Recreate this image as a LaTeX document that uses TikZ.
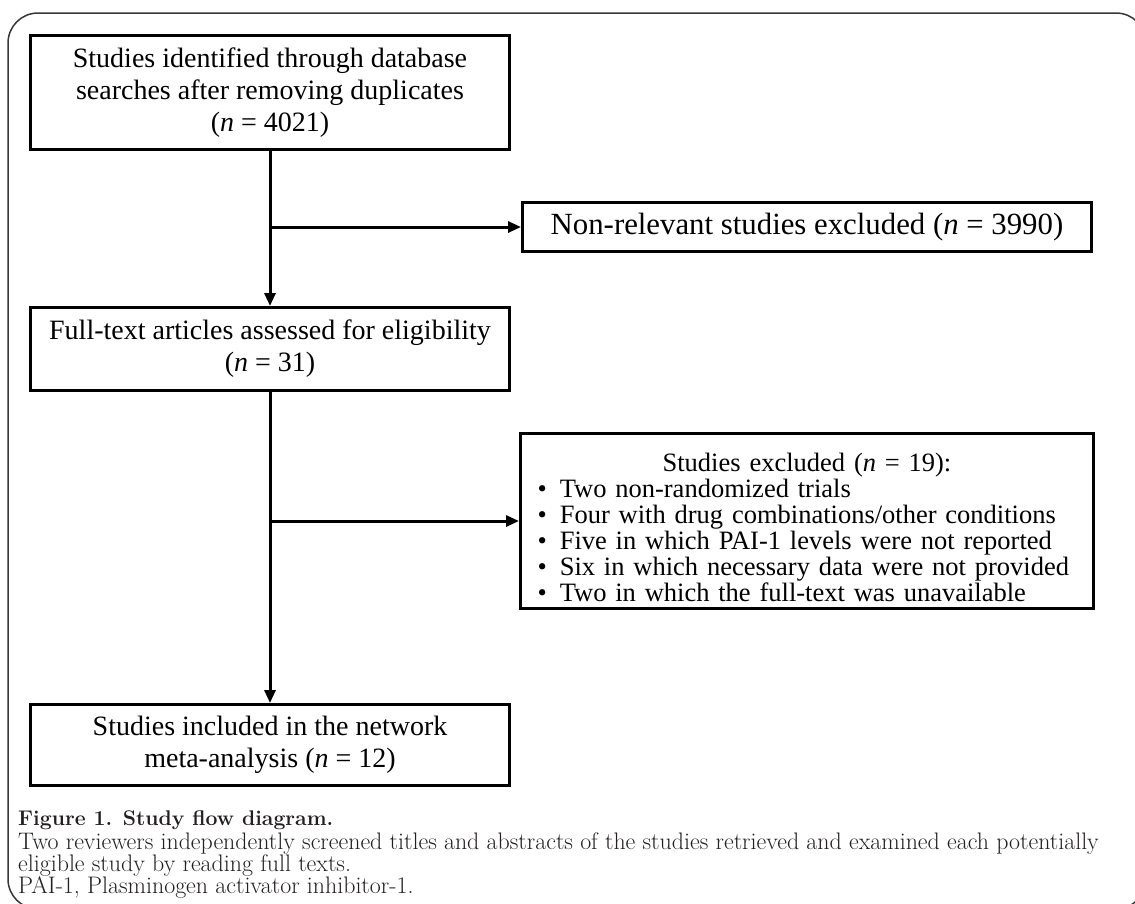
\documentclass[tikz,border=0pt]{standalone}
\usepackage{fontspec}
\newfontfamily\boxserif{Liberation Serif}
\usetikzlibrary{arrows.meta,positioning}
\definecolor{Ink}{RGB}{0,0,0}
\definecolor{CapInk}{RGB}{35,31,32}
\definecolor{FrameGrey}{RGB}{55,55,55}
\tikzset{
  flowbox/.style={draw=Ink, line width=3pt, fill=white, text=Ink, align=center,
    inner sep=0pt, minimum width=479pt, font=\boxserif\fontsize{28}{32}\selectfont},
  listbox/.style={flowbox, align=left, inner xsep=17pt, font=\boxserif\fontsize{26.5}{26}\selectfont},
  flowarr/.style={-{Triangle[length=13pt,width=11pt]}, draw=Ink, line width=3pt},
  framebox/.style={draw=FrameGrey, line width=1.5pt, rounded corners=30pt},
  captext/.style={anchor=base west, inner sep=0pt, text=CapInk, font=\fontsize{23.9}{22}\selectfont},
  capbold/.style={captext, font=\fontsize{21.2}{22}\selectfont\bfseries},
}
\begin{document}
\begin{tikzpicture}[x=1pt,y=-1pt]
\useasboundingbox (0,0) rectangle (1135,903);

% ---------------- outer frame ----------------
\begin{scope}
  \clip (0,0) rectangle (1135,903);
  \draw[framebox] (8,13) rectangle (1146,909);
\end{scope}

% ---------------- main column ----------------
\node[flowbox, minimum height=114pt, anchor=north west] (ident) at (29,34)
  {Studies identified through database\\ searches after removing duplicates\\ (\textit{n} = 4021)};
\node[flowbox, minimum height=83pt, below=155pt of ident] (fulltxt)
  {Full-text articles assessed for eligibility\\ (\textit{n} = 31)};
\node[flowbox, minimum height=81pt, below=311pt of fulltxt] (incl)
  {Studies included in the network\\ meta-analysis (\textit{n} = 12)};

% ---------------- exclusion boxes ----------------
\node[flowbox, minimum width=569pt, minimum height=49pt, anchor=north west,
  font=\boxserif\fontsize{30.8}{32}\selectfont] (nonrel) at (521,201)
  {Non-relevant studies excluded (\textit{n} = 3990)};
\node[listbox, text width=539pt, minimum height=175pt, anchor=north west] (excl) at (519,432)
  {\makebox[\linewidth][c]{\rule{0pt}{31pt}Studies excluded (\textit{n} = 19):}\\
   \textbullet\hspace{13pt}Two non-randomized trials\\
   \textbullet\hspace{13pt}Four with drug combinations/other conditions\\
   \textbullet\hspace{13pt}Five in which PAI-1 levels were not reported\\
   \textbullet\hspace{13pt}Six in which necessary data were not provided\\
   \textbullet\hspace{13pt}Two in which the full-text was unavailable};

% junctions on the trunk
\coordinate (j1) at (ident.south |- nonrel.west);
\coordinate (j2) at (ident.south |- excl.west);

\draw[flowarr] (ident.south) -- (fulltxt.north);
\draw[flowarr] (j1) -- (nonrel.west);
\draw[flowarr] (fulltxt.south) -- (incl.north);
\draw[flowarr] (j2) -- (excl.west);

% ---------------- caption ----------------
\node[capbold] (captitle) at (18,825) {Figure 1. Study flow diagram.};
\node[captext] (capline1) at (18,849) {Two reviewers independently screened titles and abstracts of the studies retrieved and examined each potentially};
\node[captext] (capline2) at (18,871) {eligible study by reading full texts.};
\node[captext] (capline3) at (18,893) {PAI-1, Plasminogen activator inhibitor-1.};

\end{tikzpicture}
\end{document}
